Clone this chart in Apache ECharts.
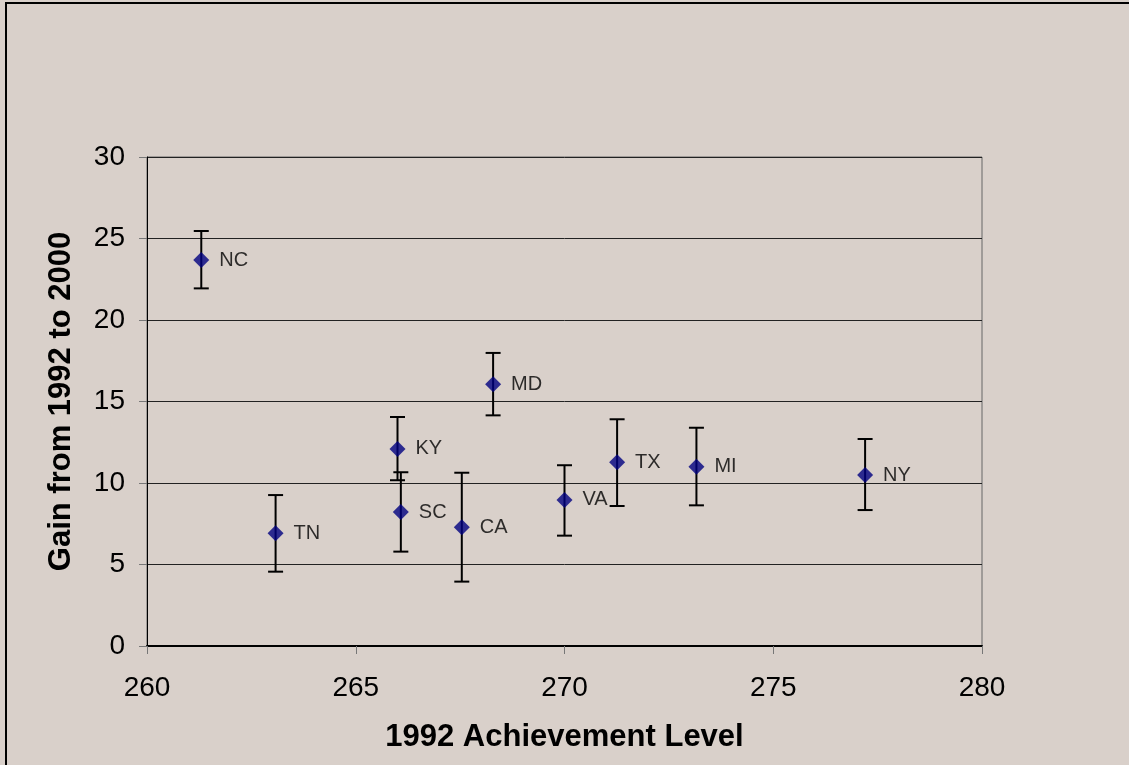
<!DOCTYPE html>
<html>
<head>
<meta charset="utf-8">
<script src="https://cdn.jsdelivr.net/npm/echarts@6/dist/echarts.min.js"></script>
<style>
html,body{margin:0;padding:0;background:#d9d0ca;}
#chart{width:1129px;height:765px;}
</style>
</head>
<body>
<div id="chart"></div>
<script>
const states = ['NC','TN','KY','SC','CA','MD','VA','TX','MI','NY'];
const level1992 = [261.3, 263.08, 266.0, 266.08, 267.54, 268.29, 270.0, 271.26, 273.16, 277.2];
const gain = [23.68, 6.91, 12.09, 8.22, 7.28, 16.06, 8.96, 11.27, 11.0, 10.49];
const gainHigh = [25.46, 9.26, 14.05, 10.66, 10.63, 17.98, 11.09, 13.91, 13.39, 12.70];
const gainLow = [21.94, 4.56, 10.17, 5.79, 3.95, 14.15, 6.77, 8.59, 8.63, 8.34];
const xTitle = '1992 Achievement Level';
const yTitle = 'Gain from 1992 to 2000';

const FONT = '"Liberation Sans", Arial, sans-serif';
const chart = echarts.init(document.getElementById('chart'), null, {renderer: 'canvas'});

const pointData = states.map((s, i) => ({value: [level1992[i], gain[i]], name: s}));
const errData = states.map((s, i) => [level1992[i], gainLow[i], gainHigh[i]]);

chart.setOption({
  backgroundColor: '#d9d0ca',
  animation: false,
  graphic: [{
    type: 'polyline',
    shape: {points: [[6, 800], [6, 3], [1200, 3]]},
    style: {stroke: '#000', lineWidth: 2, fill: null},
    silent: true
  }],
  grid: {
    left: 147, right: 147, top: 157, bottom: 119,
    show: true, borderColor: '#666', borderWidth: 1, backgroundColor: 'transparent'
  },
  xAxis: {
    type: 'value', min: 260, max: 280, interval: 5,
    name: xTitle, nameLocation: 'middle', nameGap: 76,
    nameTextStyle: {fontFamily: FONT, fontSize: 31, fontWeight: 'bold', color: '#000'},
    axisLine: {show: true, onZero: false, lineStyle: {color: '#000', width: 2}},
    axisTick: {show: true, inside: false, length: 8, lineStyle: {color: '#777', width: 1}},
    axisLabel: {fontFamily: FONT, fontSize: 28, color: '#000', margin: 28},
    splitLine: {show: false}
  },
  yAxis: {
    type: 'value', min: 0, max: 30, interval: 5,
    name: yTitle, nameLocation: 'middle', nameGap: 70,
    nameTextStyle: {fontFamily: FONT, fontSize: 31, fontWeight: 'bold', color: '#000'},
    axisLine: {show: true, onZero: false, lineStyle: {color: '#000', width: 1}},
    axisTick: {show: true, inside: false, length: 8, lineStyle: {color: '#777', width: 1}},
    axisLabel: {fontFamily: FONT, fontSize: 28, color: '#000', margin: 22},
    splitLine: {show: true, lineStyle: {color: '#222', width: 1}}
  },
  series: [{
    type: 'custom',
    data: errData,
    z: 2,
    renderItem: function (params, api) {
      const x = api.value(0);
      const lo = api.coord([x, api.value(1)]);
      const hi = api.coord([x, api.value(2)]);
      const half = 7.5;
      const st = {stroke: '#000', lineWidth: 2};
      return {
        type: 'group',
        children: [
          {type: 'line', shape: {x1: lo[0], y1: lo[1], x2: hi[0], y2: hi[1]}, style: st},
          {type: 'line', shape: {x1: hi[0] - half, y1: hi[1], x2: hi[0] + half, y2: hi[1]}, style: st},
          {type: 'line', shape: {x1: lo[0] - half, y1: lo[1], x2: lo[0] + half, y2: lo[1]}, style: st}
        ]
      };
    }
  }, {
    type: 'scatter',
    data: pointData,
    z: 3,
    symbol: 'diamond',
    symbolSize: 16,
    itemStyle: {color: '#000080'},
    label: {
      show: true, position: 'right', distance: 10,
      formatter: p => p.name,
      fontFamily: FONT, fontSize: 20, color: '#000'
    }
  }]
});
</script>
</body>
</html>
